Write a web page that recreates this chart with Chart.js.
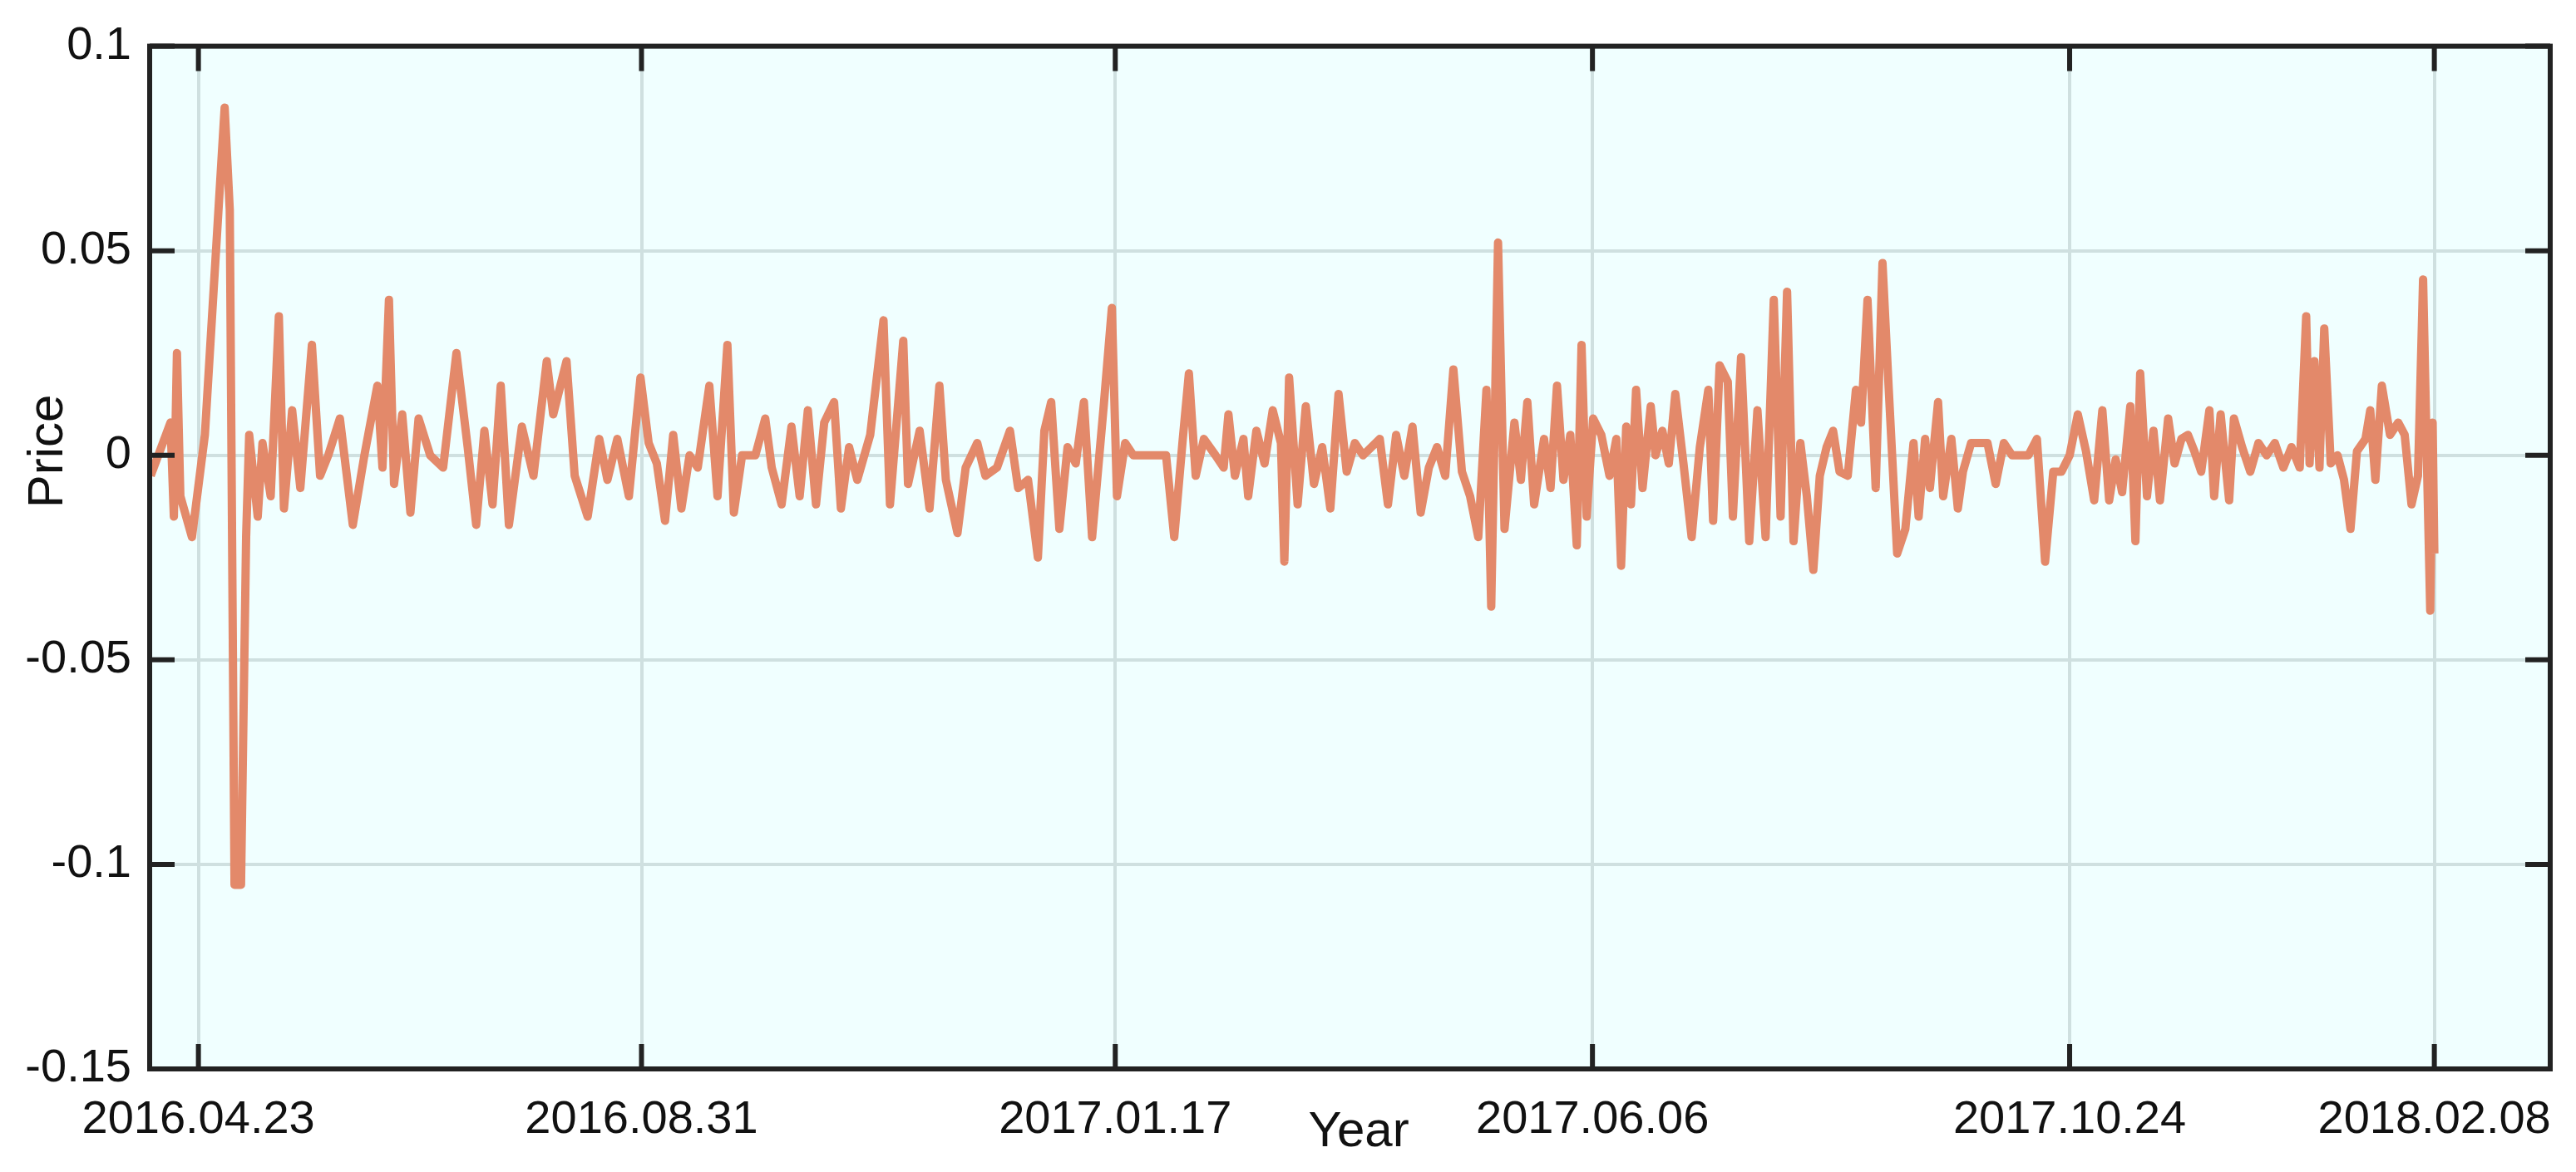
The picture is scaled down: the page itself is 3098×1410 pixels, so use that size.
<!DOCTYPE html>
<html><head><meta charset="utf-8">
<script src="https://cdn.jsdelivr.net/npm/chart.js@4/dist/chart.umd.min.js"></script>
<style>html,body{margin:0;padding:0;background:#fff}#wrap{width:3098px;height:1410px}</style>
</head><body><div id="wrap"><canvas id="c"></canvas></div>
<script>
// day offsets from 2016.04.23
const days = [-14,-8.2,-7.2,-6.3,-5.3,-1.9,1.9,7.7,9.2,10.6,12.5,14,14.9,17.4,18.8,21.2,23.6,25.1,27.5,29.9,33.3,35.7,38.1,41.5,45.3,48.7,52.5,54,55.9,57.4,59.8,62.2,64.6,68,71.8,75.7,79,81.5,83.9,86.3,88.7,91.1,94.9,98.3,102.2,104.1,108,110.4,114.2,117.6,120,122.9,126.3,129.7,132.1,134.5,136.9,139.3,141.7,144.1,146.5,149.9,152.3,155.2,157.1,159.5,163.4,166.3,168.2,171.1,174,176.4,178.8,181.2,183.6,186.5,188.5,190.9,193.3,197.1,201,202.9,206.8,208.2,211.6,214.5,217.4,219.3,222.7,225.1,228.5,230.9,234.3,238.1,240.5,243.4,246.3,248.2,250.2,252.6,255,257.4,259.8,262.2,265.6,268,269.5,271.9,274.3,279.1,283.9,286.3,288.7,290.6,292.6,295,298.4,300.8,302.2,304.1,306.6,308,310.4,312.8,315.2,317.6,318.6,320,322.5,324.9,327.3,329.7,332.1,334.5,336.9,339.3,341.7,346.6,349,351.4,353.8,356.2,358.6,361,363.4,365.8,368.2,370.7,373.1,375.5,377.9,379.3,381.3,383.2,386.1,388,389.9,391.9,394.8,396.7,398.6,400.5,402.5,404.4,405.8,407.3,409.2,411.6,414,416,417.4,418.9,420.3,421.8,423.7,426.1,427.5,429.5,431.4,433.3,435.7,438.1,440.5,443,444.4,446.3,448.7,450.2,452.6,455,457.4,459.8,462.2,464.2,466.1,468,470,471.9,473.8,475.7,477.7,479.6,481.5,483.9,486.3,487.8,489.7,492.1,494.1,496,498.4,500.8,503.2,504.7,506.6,508,510.4,511.9,514.3,516.2,517.7,520.1,524.9,527.3,529.7,532.1,536.9,539.4,541.8,544.2,546.6,549,551.4,553.8,556.2,558.6,560.6,562.5,564.4,566.8,568.3,569.7,571.7,573.6,575.5,577.9,579.8,581.8,583.7,585.6,587.6,590,591.4,593.3,595.8,597.2,599.6,602,604.4,606.8,609.2,611.7,614.1,616.5,618.4,619.4,620.8,622.3,623.7,625.6,627.6,629.5,631.4,633.3,635.8,637.2,638.7,640.6,643,645.4,647.3,649.3,651.2,652.7,654,654.8,655.5,656];
const prices = [-0.005,0.008,-0.015,0.025,-0.01,-0.02,0.005,0.085,0.06,-0.105,-0.105,-0.02,0.005,-0.015,0.003,-0.01,0.034,-0.013,0.011,-0.008,0.027,-0.005,0,0.009,-0.017,0,0.017,-0.003,0.038,-0.007,0.01,-0.014,0.009,0,-0.003,0.025,0.002,-0.017,0.006,-0.012,0.017,-0.017,0.007,-0.005,0.023,0.01,0.023,-0.005,-0.015,0.004,-0.006,0.004,-0.01,0.019,0.003,-0.002,-0.016,0.005,-0.013,0,-0.003,0.017,-0.01,0.027,-0.014,0,0,0.009,-0.003,-0.012,0.007,-0.01,0.011,-0.012,0.008,0.013,-0.013,0.002,-0.006,0.005,0.033,-0.012,0.028,-0.007,0.006,-0.013,0.017,-0.006,-0.019,-0.003,0.003,-0.005,-0.003,0.006,-0.008,-0.006,-0.025,0.006,0.013,-0.018,0.002,-0.002,0.013,-0.02,0.012,0.036,-0.01,0.003,0,0,0,-0.02,0.003,0.02,-0.005,0.004,0,-0.003,0.01,-0.005,0.004,-0.01,0.006,-0.002,0.011,0.003,-0.026,0.019,-0.012,0.012,-0.007,0.002,-0.013,0.015,-0.004,0.003,0,0.004,-0.012,0.005,-0.005,0.007,-0.014,-0.003,0.002,-0.005,0.021,-0.004,-0.01,-0.02,0.016,-0.037,0.052,-0.018,0.008,-0.006,0.013,-0.012,0.004,-0.008,0.017,-0.006,0.005,-0.022,0.027,-0.015,0.009,0.005,-0.005,0.004,-0.027,0.007,-0.012,0.016,-0.008,0.012,0,0.006,-0.002,0.015,-0.002,-0.02,0.002,0.016,-0.016,0.022,0.018,-0.015,0.024,-0.021,0.011,-0.02,0.038,-0.015,0.04,-0.021,0.003,-0.01,-0.028,-0.005,0.002,0.006,-0.004,-0.005,0.016,0.008,0.038,-0.008,0.047,0.015,-0.024,-0.018,0.003,-0.015,0.004,-0.008,0.013,-0.01,0.004,-0.013,-0.004,0.003,0.003,-0.007,0.003,0,0,0.004,-0.026,-0.004,-0.004,0,0.01,0.001,-0.011,0.011,-0.011,-0.001,-0.009,0.012,-0.021,0.02,-0.01,0.006,-0.011,0.009,-0.002,0.004,0.005,0.001,-0.004,0.011,-0.01,0.01,-0.011,0.009,0.002,-0.004,0.003,0,0.003,-0.003,0.002,-0.003,0.034,-0.002,0.023,-0.003,0.031,-0.002,0,-0.006,-0.018,0.001,0.004,0.011,-0.006,0.017,0.005,0.008,0.005,-0.012,-0.005,0.043,-0.008,-0.038,0.008,-0.024];
const tickDays = [0,130,269,409,549,656];
const tickLabels = ['2016.04.23','2016.08.31','2017.01.17','2017.06.06','2017.10.24','2018.02.08'];
const yTicks = [-0.15,-0.1,-0.05,0,0.05,0.1];
const yLabels = {'-0.15':'-0.15','-0.1':'-0.1','-0.05':'-0.05','0':'0','0.05':'0.05','0.1':'0.1'};

const FONT = '"Liberation Sans", Arial, sans-serif';
const deco = {
  id:'deco',
  beforeDraw(ch){
    const {ctx, chartArea:a} = ch;
    ctx.save(); ctx.fillStyle='#F0FFFF';
    ctx.fillRect(a.left,a.top,a.right-a.left,a.bottom-a.top); ctx.restore();
  },
  afterDraw(ch){
    const {ctx, chartArea:a, scales} = ch;
    ctx.save();
    ctx.strokeStyle='#222'; ctx.lineWidth=6;
    ctx.strokeRect(a.left,a.top,a.right-a.left,a.bottom-a.top);
    const L=30;
    yTicks.forEach(v=>{const y=scales.y.getPixelForValue(v);
      ctx.beginPath();ctx.moveTo(a.left,y);ctx.lineTo(a.left+L,y);ctx.moveTo(a.right,y);ctx.lineTo(a.right-L,y);ctx.stroke();});
    tickDays.forEach(v=>{const x=scales.x.getPixelForValue(v);
      ctx.beginPath();ctx.moveTo(x,a.bottom);ctx.lineTo(x,a.bottom-L);ctx.moveTo(x,a.top);ctx.lineTo(x,a.top+L);ctx.stroke();});
    ctx.fillStyle='#111'; ctx.font='60px '+FONT; ctx.textAlign='center'; ctx.textBaseline='middle';
    ctx.fillText('Year', 1634, 1362);
    ctx.translate(58, 543); ctx.rotate(-Math.PI/2); ctx.fillText('Price',0,0);
    ctx.restore();
  }
};
Chart.defaults.font.family = FONT;
new Chart(document.getElementById('c'), {
  type:'line',
  data:{datasets:[{data:days.map((d,i)=>({x:d,y:prices[i]})),borderColor:'#E3896A',borderWidth:10,pointRadius:0,tension:0,fill:false,borderJoinStyle:'round'}]},
  options:{
    responsive:true, maintainAspectRatio:false, animation:false,
    layout:{padding:{top:45,right:31,left:0,bottom:0}},
    plugins:{legend:{display:false},tooltip:{enabled:false}},
    scales:{
      x:{type:'linear',min:-14.3,max:690,
        afterBuildTicks:s=>{s.ticks=tickDays.map(v=>({value:v}));},
        afterFit:s=>{s.height=124;},
        ticks:{autoSkip:false,maxRotation:0,color:'#111',font:{size:56},padding:28,callback:(v)=>tickLabels[tickDays.indexOf(v)]},
        grid:{color:'#CFE0E0',lineWidth:4,drawTicks:false},border:{display:false}},
      y:{min:-0.15,max:0.1,
        afterBuildTicks:s=>{s.ticks=yTicks.map(v=>({value:v}));},
        afterFit:s=>{s.width=180;},
        ticks:{color:'#111',font:{size:56},padding:22,callback:v=>yLabels[String(Math.round(v*100)/100)]},
        grid:{color:'#CFE0E0',lineWidth:4,drawTicks:false},border:{display:false}}
    }
  },
  plugins:[deco]
});
</script></body></html>
